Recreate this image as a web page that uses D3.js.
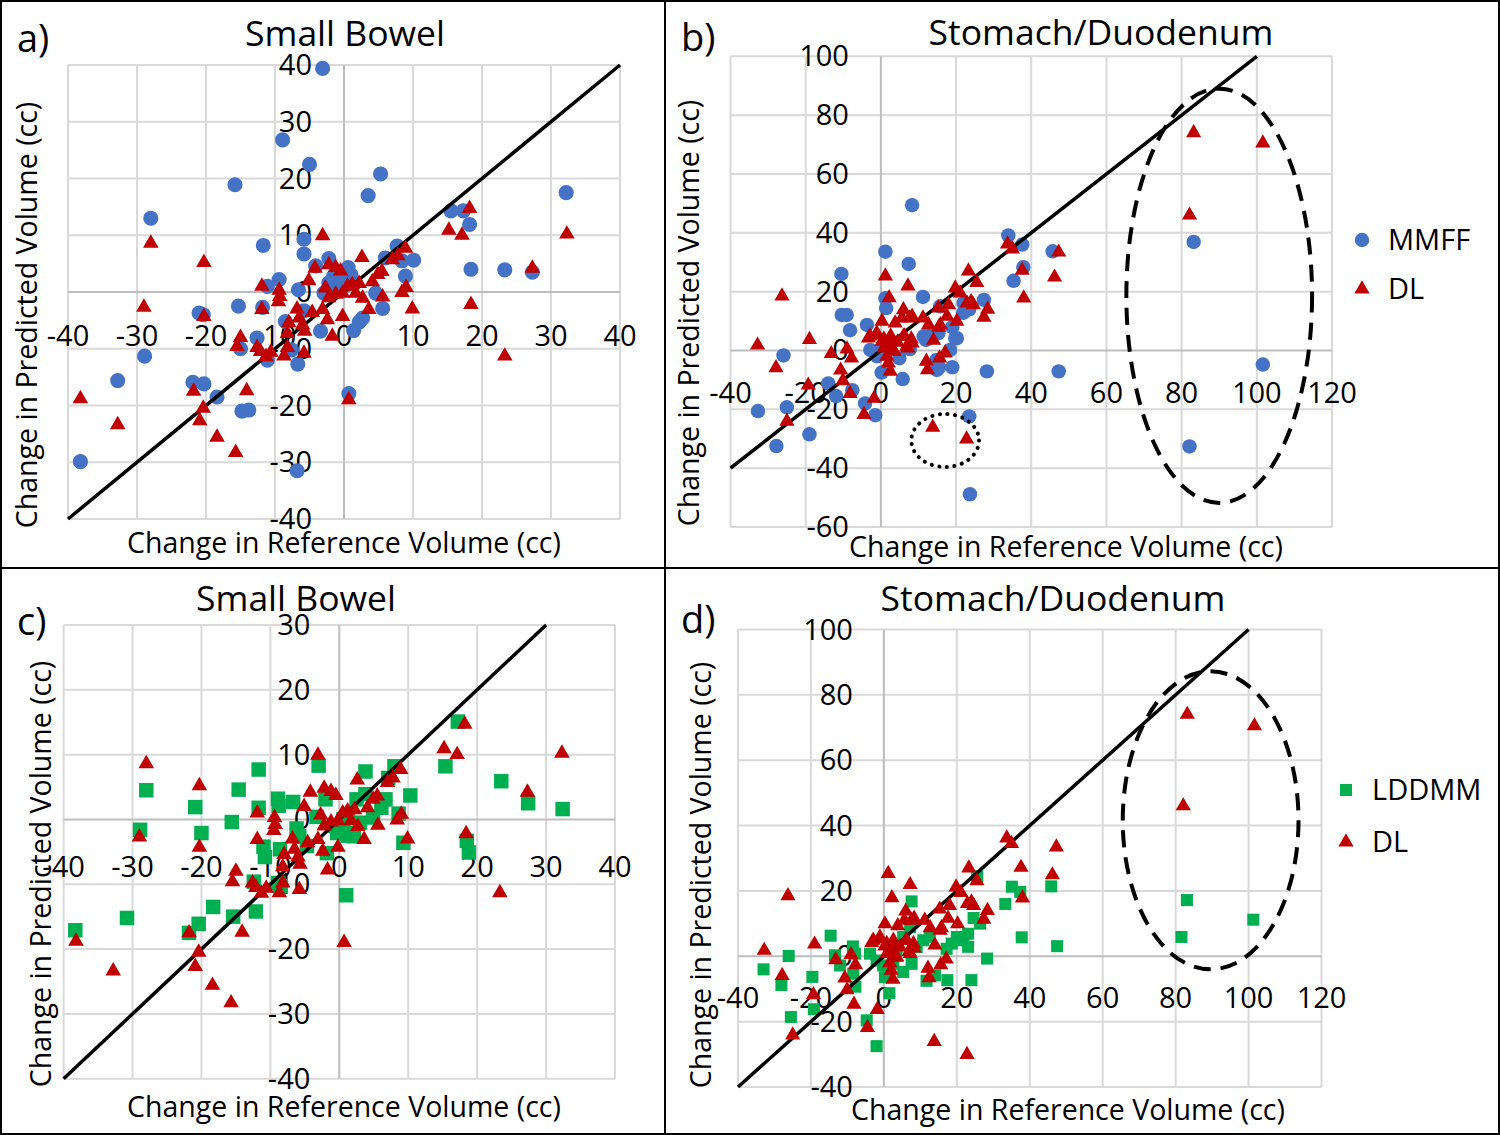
<!DOCTYPE html>
<html>
<head>
<meta charset="utf-8">
<script src="https://cdn.jsdelivr.net/npm/d3@7"></script>
<style>
  html, body { margin: 0; padding: 0; background: #fff; }
  svg text { font-family: "Open Sans", sans-serif; fill: #000; }
</style>
</head>
<body>
<svg id="fig" width="1500" height="1135"></svg>
<script>
// ---- data: [change in reference volume, change in predicted volume] (cc)
const smallBowelMMFF = [
  [-3.1, 39.4], [-8.9, 26.8], [-5.0, 22.5], [-15.8, 18.9], [5.3, 20.8], [3.5, 17.0],
  [32.2, 17.5], [-28.0, 13.0], [15.5, 14.3], [17.3, 14.3], [18.2, 11.9], [-11.7, 8.2],
  [-5.8, 9.3], [-5.8, 6.7], [-4.1, 4.6], [-2.2, 5.9], [0.6, 4.3], [7.7, 8.1],
  [8.4, 5.5], [10.1, 5.6], [8.9, 2.8], [18.4, 4.0], [23.3, 3.9], [27.3, 3.5],
  [-9.4, 2.2], [-11.1, 1.0], [-6.6, 0.4], [-1.5, 2.8], [-2.2, 1.6], [-1.2, 0.7],
  [-0.2, 2.2], [-2.9, -0.2], [-15.3, -2.5], [-11.8, -2.7], [-21.0, -3.7], [-20.4, -4.0],
  [-5.8, -3.3], [5.6, -2.9], [4.6, -0.2], [2.7, -4.6], [2.2, -5.3], [1.4, -6.8],
  [-3.4, -6.9], [-12.6, -8.1], [-15.0, -10.0], [-7.6, -10.2], [-11.1, -12.0], [-6.7, -12.7],
  [-28.9, -11.3], [-32.8, -15.6], [-21.9, -15.9], [-20.3, -16.2], [-18.4, -18.5], [0.7, -17.9],
  [-14.8, -21.0], [-13.8, -20.8], [-38.2, -29.9], [-6.8, -31.5], [6.0, 6.0], [0.3, 1.2],
  [1.0, 3.0], [-8.5, -5.2]
];
const smallBowelLDDMM = [
  [-38.3, -17.1], [-30.8, -15.2], [-28.0, 4.5], [-28.9, -1.6], [-20.9, 1.9], [-20.0, -2.1],
  [-21.8, -17.5], [-20.4, -16.1], [-18.3, -13.5], [-15.4, -15.0], [-14.6, 4.6], [-15.6, -0.4],
  [-11.7, 7.7], [-11.7, 1.8], [-12.1, -14.2], [-8.9, 3.2], [-8.8, 2.1], [-6.7, 2.7],
  [-3.0, 8.3], [-11.0, -4.2], [-10.8, -5.8], [-8.6, -4.6], [-8.9, -9.8], [-12.4, -9.6],
  [-6.2, -1.4], [-5.8, -2.6], [-4.7, -4.1], [-3.3, 0.4], [-2.0, 3.1], [-1.8, -5.2],
  [1.0, -11.7], [1.2, -2.5], [2.5, 3.1], [3.8, 3.9], [3.8, 7.4], [4.9, 0.3],
  [6.1, 1.8], [6.7, 3.1], [7.1, 6.4], [8.0, 8.2], [8.6, 0.9], [9.3, -3.6],
  [10.3, 3.7], [15.4, 8.2], [17.2, 15.1], [18.5, -3.3], [18.8, -5.1], [23.5, 5.9],
  [27.4, 2.5], [32.4, 1.6], [-0.8, -1.0], [-0.3, -2.1], [0.6, 0.0], [1.1, -2.1],
  [2.1, -2.6], [3.0, -0.5], [-8.6, -10.3]
];
const smallBowelDL = [
  [-3.1, 9.9], [-28.0, 8.6], [-20.3, 5.2], [2.6, 6.1], [-29.0, -2.7], [-20.3, -4.3],
  [-38.2, -18.8], [-32.8, -23.4], [-21.8, -17.5], [-20.4, -20.5], [-20.9, -22.7], [-18.4, -25.6],
  [-15.7, -28.3], [-14.1, -17.4], [0.7, -19.0], [15.2, 10.9], [17.1, 10.0], [18.2, 14.7],
  [32.3, 10.2], [27.3, 4.2], [18.4, -2.2], [9.9, -3.0], [23.3, -11.3], [8.9, 7.7],
  [7.8, 6.4], [7.0, 5.7], [9.0, 0.8], [8.4, -0.1], [5.6, -0.9], [5.5, 3.6],
  [4.9, 3.1], [4.1, 1.8], [2.2, 1.5], [1.2, 1.3], [0.5, 1.0], [-4.2, 4.2],
  [-2.2, 4.8], [-1.2, 4.3], [-0.5, 3.7], [-5.1, 2.0], [-11.9, 1.0], [-9.4, 0.3],
  [-9.3, -0.8], [-9.5, -1.7], [-11.9, -3.1], [-6.8, -3.0], [-3.1, -3.1], [-4.6, -3.6],
  [-2.7, 0.7], [-2.2, -1.0], [-1.2, -0.4], [-0.2, -0.2], [1.7, -0.2], [2.7, -1.1],
  [3.6, -3.1], [-0.2, -4.3], [-2.4, -4.9], [-1.7, -7.8], [-6.5, -4.6], [-8.0, -5.4],
  [-6.0, -5.8], [-5.7, -6.9], [-8.2, -7.3], [-15.0, -8.0], [-15.5, -9.6], [-12.6, -9.8],
  [-12.1, -10.5], [-11.3, -11.4], [-10.6, -10.6], [-8.7, -11.3], [-8.2, -9.8], [-5.8, -10.8]
];
const stomachMMFF = [
  [8.3, 49.4], [33.9, 39.1], [37.6, 36.0], [45.7, 33.7], [37.9, 28.3], [35.3, 23.7],
  [1.2, 33.6], [7.4, 29.4], [-10.5, 26.0], [11.2, 18.2], [27.4, 17.2], [-10.4, 12.1],
  [-9.1, 12.1], [-8.2, 6.9], [-3.7, 8.7], [1.2, 17.8], [1.4, 14.4], [-25.9, -1.7],
  [-32.7, -20.6], [-25.0, -19.3], [-19.0, -28.5], [-27.8, -32.5], [-14.0, -11.2], [-11.9, -15.5],
  [-7.6, -13.5], [-4.2, -18.0], [-1.5, -22.0], [23.5, -22.4], [23.7, -48.9], [28.2, -7.1],
  [47.3, -7.1], [0.2, -7.5], [5.8, -9.7], [83.2, 36.9], [101.6, -4.8], [82.1, -32.6],
  [-2.8, 0.2], [-1.0, -2.0], [0.7, 1.4], [11.4, 4.8], [15.3, 5.9], [18.4, 0.2],
  [14.9, -6.6], [20.2, 4.2], [15.8, 15.0], [22.0, 16.1], [21.9, 12.8], [19.0, 7.9],
  [14.8, -3.2], [15.5, -5.7], [2.1, 1.7], [4.9, -2.6], [7.7, 0.5], [12.0, 3.6],
  [13.4, 5.4], [19.8, 4.2], [19.0, -5.7], [23.5, 14.0]
];
const stomachLDDMM = [
  [45.9, 21.4], [47.5, 3.1], [37.8, 5.8], [35.1, 21.3], [37.4, 19.7], [33.3, 16.0],
  [83.1, 17.2], [81.6, 5.9], [101.3, 11.2], [28.3, -0.7], [24.0, -7.3], [17.4, -7.3],
  [25.6, 24.5], [24.6, 11.7], [26.4, 10.0], [23.1, 6.9], [23.1, 2.9], [21.8, 4.9],
  [20.0, 5.9], [18.6, 3.9], [17.2, 2.3], [12.6, 5.9], [10.8, 4.9], [11.7, -7.5],
  [14.0, -5.8], [7.6, 16.8], [7.2, 8.9], [5.3, 5.9], [3.5, 1.8], [2.6, -2.3],
  [5.3, -4.8], [7.6, -2.3], [-0.2, -2.8], [-2.0, -1.3], [-3.8, 0.8], [1.5, -11.3],
  [0.3, -6.4], [-14.6, 6.3], [-8.5, 3.0], [-7.9, 0.8], [-13.4, 0.3], [-12.0, -2.8],
  [-8.4, -5.3], [-7.8, -9.3], [-26.1, 0.1], [-33.0, -4.0], [-28.1, -8.8], [-19.6, -6.3],
  [-19.2, -16.2], [-25.5, -18.6], [-4.7, -19.6], [-2.0, -27.5], [9.0, 2.8]
];
const stomachDL = [
  [83.2, 74.0], [101.6, 70.5], [82.1, 46.0], [33.7, 36.2], [35.0, 34.5], [47.3, 33.4],
  [46.2, 24.9], [37.6, 27.2], [38.0, 17.8], [-26.3, 18.5], [-32.8, 1.8], [-27.9, -5.9],
  [-19.0, 3.7], [-25.0, -24.1], [-19.3, -11.8], [-13.2, -1.1], [-9.0, 0.5], [-7.8, -2.6],
  [-10.7, -6.7], [-10.1, -10.3], [-8.2, -14.7], [-4.5, -21.8], [-1.8, -16.3], [1.2, 25.3],
  [2.2, 17.9], [7.2, 21.9], [13.8, -26.1], [22.8, -30.1], [23.3, 27.0], [25.5, 23.1],
  [19.8, 21.2], [21.1, 19.5], [24.0, 16.6], [22.9, 16.1], [24.6, 15.5], [27.4, 11.3],
  [28.4, 14.0], [0.3, 9.9], [-3.3, 4.2], [-1.0, 5.3], [0.3, 3.1], [1.6, 1.4],
  [2.5, 3.6], [3.8, 9.3], [6.0, 13.8], [5.6, 11.0], [8.3, 11.6], [1.6, -2.0],
  [3.4, -0.3], [6.0, 4.8], [6.9, 1.4], [8.3, 2.5], [2.0, -4.3], [2.5, -7.1],
  [11.2, 11.0], [12.7, 8.7], [14.0, 3.4], [12.1, -3.7], [12.4, -6.6], [15.3, 14.4],
  [15.8, 8.7], [15.6, -2.6], [17.1, -0.9], [18.0, 15.5], [17.6, 11.6], [20.2, 9.9],
  [-2.9, 4.9], [-1.1, 5.9], [0.8, 3.9], [2.6, 4.9], [4.4, 2.8], [6.3, 4.9],
  [8.1, 3.9], [0.8, 0.8], [3.5, -0.2], [7.2, 0.8], [7.6, 11.0], [15.4, 7.9]
];

// ---- tick labels
const ticksSB = [-40, -30, -20, -10, 0, 10, 20, 30, 40];
const ticksSBcY = [-40, -30, -20, -10, 0, 10, 20, 30];
const ticksSDx = [-40, -20, 0, 20, 40, 60, 80, 100, 120];
const ticksSDbY = [-60, -40, -20, 0, 20, 40, 60, 80, 100];
const ticksSDdY = [-40, -20, 0, 20, 40, 60, 80, 100];

const BLUE = "#4472C4", RED = "#C00000", GREEN = "#00B050";

const panels = [
  { letter: "a)", title: "Small Bowel", box: { l: 68, r: 620, t: 65, b: 519 },
    xTicks: ticksSB, yTicks: ticksSB, diag: [-40, 40],
    series: [{ data: smallBowelMMFF, shape: "circle", color: BLUE, size: 180 },
             { data: smallBowelDL, shape: "triangle", color: RED, size: 105 }],
    letterPos: [17, 52], titlePos: [345, 46], xTitlePos: [344, 553], yTitlePos: [37, 315],
    xLabOff: 54, yLabOff: 32 },
  { letter: "b)", title: "Stomach/Duodenum", box: { l: 730.5, r: 1332, t: 56.3, b: 527 },
    xTicks: ticksSDx, yTicks: ticksSDbY, diag: [-40, 100],
    series: [{ data: stomachMMFF, shape: "circle", color: BLUE, size: 165 },
             { data: stomachDL, shape: "triangle", color: RED, size: 100 }],
    letterPos: [681, 51], titlePos: [1101, 45], xTitlePos: [1066, 557], yTitlePos: [699, 313],
    xLabOff: 53, yLabOff: 32,
    legend: { x: 1362, y: [240, 289], textX: 1388, labels: ["MMFF", "DL"] },
    ellipses: [{ cx: 90, cy: 18.6, rx: 24.7, ry: 70.4, dash: "17,10", cap: "butt" },
               { cx: 17.1, cy: -30.6, rx: 9, ry: 9, dash: "0.1,7.5", cap: "round" }] },
  { letter: "c)", title: "Small Bowel", box: { l: 63.6, r: 615, t: 625, b: 1078.7 },
    xTicks: ticksSB, yTicks: ticksSBcY, diag: [-40, 30],
    series: [{ data: smallBowelLDDMM, shape: "square", color: GREEN, size: 210 },
             { data: smallBowelDL, shape: "triangle", color: RED, size: 105 }],
    letterPos: [17, 635], titlePos: [296, 611], xTitlePos: [344, 1117], yTitlePos: [51, 874],
    xLabOff: 58, yLabOff: 29 },
  { letter: "d)", title: "Stomach/Duodenum", box: { l: 738, r: 1321.5, t: 629.5, b: 1087 },
    xTicks: ticksSDx, yTicks: ticksSDdY, diag: [-40, 100],
    series: [{ data: stomachLDDMM, shape: "square", color: GREEN, size: 145 },
             { data: stomachDL, shape: "triangle", color: RED, size: 100 }],
    letterPos: [681, 633], titlePos: [1053, 611], xTitlePos: [1068, 1120], yTitlePos: [711, 875],
    xLabOff: 52, yLabOff: 31,
    legend: { x: 1346, y: [790, 842], textX: 1372, labels: ["LDDMM", "DL"] },
    ellipses: [{ cx: 89.6, cy: 41.6, rx: 24.1, ry: 45.6, dash: "17,10", cap: "butt" }] }
];

const shapes = { circle: d3.symbolCircle, triangle: d3.symbolTriangle, square: d3.symbolSquare };

const svg = d3.select("#fig");

panels.forEach((p) => {
  const g = svg.append("g");
  const x = d3.scaleLinear().domain(d3.extent(p.xTicks)).range([p.box.l, p.box.r]);
  const y = d3.scaleLinear().domain(d3.extent(p.yTicks)).range([p.box.b, p.box.t]);

  // gridlines
  g.append("g").selectAll("line").data(p.xTicks.filter((d) => d !== 0)).join("line")
    .attr("x1", (d) => x(d)).attr("x2", (d) => x(d))
    .attr("y1", p.box.t).attr("y2", p.box.b)
    .attr("stroke", "#d9d9d9").attr("stroke-width", 2);
  g.append("g").selectAll("line").data(p.yTicks.filter((d) => d !== 0)).join("line")
    .attr("y1", (d) => y(d)).attr("y2", (d) => y(d))
    .attr("x1", p.box.l).attr("x2", p.box.r)
    .attr("stroke", "#d9d9d9").attr("stroke-width", 2);

  // zero axes
  g.append("line").attr("x1", x(0)).attr("x2", x(0)).attr("y1", p.box.t).attr("y2", p.box.b)
    .attr("stroke", "#bdbdbd").attr("stroke-width", 2);
  g.append("line").attr("y1", y(0)).attr("y2", y(0)).attr("x1", p.box.l).attr("x2", p.box.r)
    .attr("stroke", "#bdbdbd").attr("stroke-width", 2);

  // tick labels next to the axes
  g.append("g").selectAll("text").data(p.xTicks).join("text")
    .attr("x", (d) => x(d)).attr("y", y(0) + p.xLabOff)
    .attr("text-anchor", "middle").attr("font-size", 29)
    .text((d) => d);
  g.append("g").selectAll("text").data(p.yTicks).join("text")
    .attr("x", x(0) - p.yLabOff).attr("y", (d) => y(d) + 10)
    .attr("text-anchor", "end").attr("font-size", 29)
    .text((d) => d);

  // first series, identity line, DL on top
  const drawSeries = (s) => {
    g.append("g").selectAll("path").data(s.data).join("path")
      .attr("transform", (d) => `translate(${x(d[0])},${y(d[1])})`)
      .attr("d", d3.symbol().type(shapes[s.shape]).size(s.size))
      .attr("fill", s.color);
  };
  drawSeries(p.series[0]);
  g.append("line")
    .attr("x1", x(p.diag[0])).attr("y1", y(p.diag[0]))
    .attr("x2", x(p.diag[1])).attr("y2", y(p.diag[1]))
    .attr("stroke", "#000").attr("stroke-width", 3.5);
  drawSeries(p.series[1]);

  (p.ellipses || []).forEach((e) => {
    g.append("ellipse")
      .attr("cx", x(e.cx)).attr("cy", y(e.cy))
      .attr("rx", Math.abs(x(e.cx + e.rx) - x(e.cx)))
      .attr("ry", Math.abs(y(e.cy + e.ry) - y(e.cy)))
      .attr("fill", "none").attr("stroke", "#000").attr("stroke-width", 4)
      .attr("stroke-dasharray", e.dash).attr("stroke-linecap", e.cap);
  });

  if (p.legend) {
    p.series.forEach((s, i) => {
      g.append("path")
        .attr("transform", `translate(${p.legend.x},${p.legend.y[i]})`)
        .attr("d", d3.symbol().type(shapes[s.shape]).size(s.size))
        .attr("fill", s.color);
      g.append("text").attr("x", p.legend.textX).attr("y", p.legend.y[i] + 10)
        .attr("font-size", 29).text(p.legend.labels[i]);
    });
  }

  // titles
  g.append("text").attr("x", p.letterPos[0]).attr("y", p.letterPos[1])
    .attr("font-size", 38).text(p.letter);
  g.append("text").attr("x", p.titlePos[0]).attr("y", p.titlePos[1])
    .attr("text-anchor", "middle").attr("font-size", 35.5).text(p.title);
  g.append("text").attr("x", p.xTitlePos[0]).attr("y", p.xTitlePos[1])
    .attr("text-anchor", "middle").attr("font-size", 28.5).text("Change in Reference Volume (cc)");
  g.append("text")
    .attr("transform", `translate(${p.yTitlePos[0]},${p.yTitlePos[1]}) rotate(-90)`)
    .attr("text-anchor", "middle").attr("font-size", 28.5).text("Change in Predicted Volume (cc)");
});

// panel frame
svg.append("rect").attr("x", 1).attr("y", 1).attr("width", 1498).attr("height", 1133)
  .attr("fill", "none").attr("stroke", "#000").attr("stroke-width", 2);
svg.append("line").attr("x1", 665).attr("x2", 665).attr("y1", 0).attr("y2", 1135)
  .attr("stroke", "#000").attr("stroke-width", 2);
svg.append("line").attr("x1", 0).attr("x2", 1500).attr("y1", 568).attr("y2", 568)
  .attr("stroke", "#000").attr("stroke-width", 2);
</script>
</body>
</html>
